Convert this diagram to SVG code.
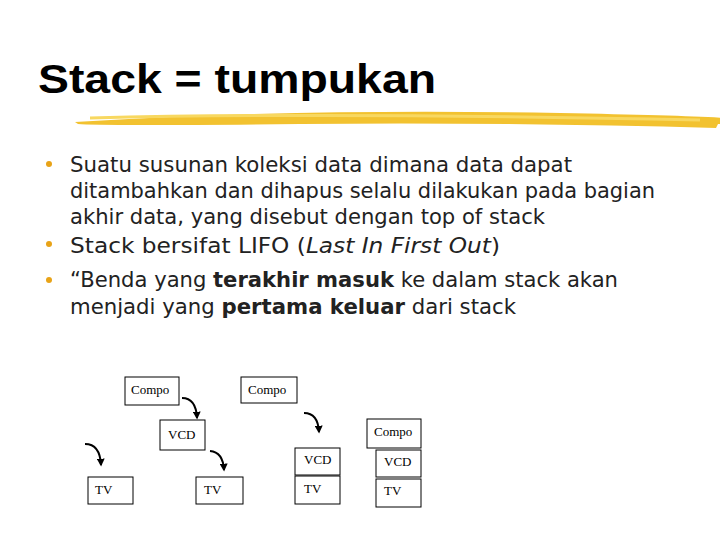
<svg xmlns="http://www.w3.org/2000/svg" width="720" height="540" viewBox="0 0 720 540">
<style>
.t{font-family:"DejaVu Sans",sans-serif;font-size:21px;fill:#222}
.b{fill:#e8a317}
.n rect{fill:#fff;stroke:#000;stroke-width:1}
.n text{font-family:"Liberation Serif",serif;font-size:13px;fill:#000}
.c path{fill:none;stroke:#000;stroke-width:2;marker-end:url(#a)}
</style>
<defs><marker id="a" viewBox="0 0 10 10" refX="8" refY="5" markerWidth="4" markerHeight="4" orient="auto"><path d="M0,0L10,5L0,10z" fill="#000"/></marker></defs>
<rect width="720" height="540" fill="#fff"/>
<text x="38" y="93" style="font-family:'Liberation Sans',sans-serif;font-weight:bold;font-size:40px" fill="#000" textLength="398" lengthAdjust="spacingAndGlyphs">Stack = tumpukan</text>
<path d="M75,122 Q300,108 560,113 T718,124 L716,128 Q500,122 300,124 T78,124z" fill="#f2c230"/>
<path d="M90,118 Q330,112 700,120" stroke="#f8d860" stroke-width="3" fill="none"/>
<circle class="b" cx="49" cy="164" r="3"/><circle class="b" cx="49" cy="244" r="3"/><circle class="b" cx="49" cy="280" r="3"/>
<g lengthAdjust="spacingAndGlyphs">
<text class="t" x="70" y="172" textLength="502" lengthAdjust="spacingAndGlyphs">Suatu susunan koleksi data dimana data  dapat</text>
<text class="t" x="70" y="198" textLength="585" lengthAdjust="spacingAndGlyphs">ditambahkan dan dihapus selalu dilakukan pada bagian</text>
<text class="t" x="70" y="224" textLength="475" lengthAdjust="spacingAndGlyphs">akhir data, yang disebut dengan top of stack</text>
<text class="t" x="70" y="253" textLength="430" lengthAdjust="spacingAndGlyphs">Stack bersifat LIFO (<tspan font-style="italic">Last In First Out</tspan>)</text>
<text class="t" x="70" y="287" textLength="548" lengthAdjust="spacingAndGlyphs">“Benda yang <tspan font-weight="bold">terakhir masuk</tspan> ke dalam stack akan</text>
<text class="t" x="70" y="314" textLength="446" lengthAdjust="spacingAndGlyphs">menjadi yang <tspan font-weight="bold">pertama keluar</tspan> dari stack</text>
</g>
<g class="c">
<path d="M182,398 Q196,398 197,418"/>
<path d="M85,444 Q100,444 101,465"/>
<path d="M210,451 Q223,452 224,470"/>
<path d="M304,413 Q318,413 319,432"/>
</g>
<g class="n" id="compo1"><rect x="125" y="377" width="54" height="28"/><text x="131" y="394">Compo</text></g>
<g class="n" id="compo2"><rect x="241" y="377" width="56" height="26"/><text x="248" y="394">Compo</text></g>
<g class="n" id="vcd1"><rect x="160" y="420" width="45" height="30"/><text x="168" y="439">VCD</text></g>
<g class="n" id="compo3"><rect x="367" y="419" width="54" height="29"/><text x="374" y="436">Compo</text></g>
<g class="n" id="vcd2"><rect x="295" y="448" width="45" height="27"/><text x="304" y="464">VCD</text></g>
<g class="n" id="vcd3"><rect x="376" y="450" width="45" height="27"/><text x="384" y="466">VCD</text></g>
<g class="n" id="tv1"><rect x="88" y="477" width="45" height="27"/><text x="95" y="494">TV</text></g>
<g class="n" id="tv2"><rect x="196" y="477" width="47" height="27"/><text x="204" y="494">TV</text></g>
<g class="n" id="tv3"><rect x="295" y="476" width="45" height="28"/><text x="304" y="493">TV</text></g>
<g class="n" id="tv4"><rect x="376" y="479" width="45" height="28"/><text x="384" y="495">TV</text></g>
</svg>
